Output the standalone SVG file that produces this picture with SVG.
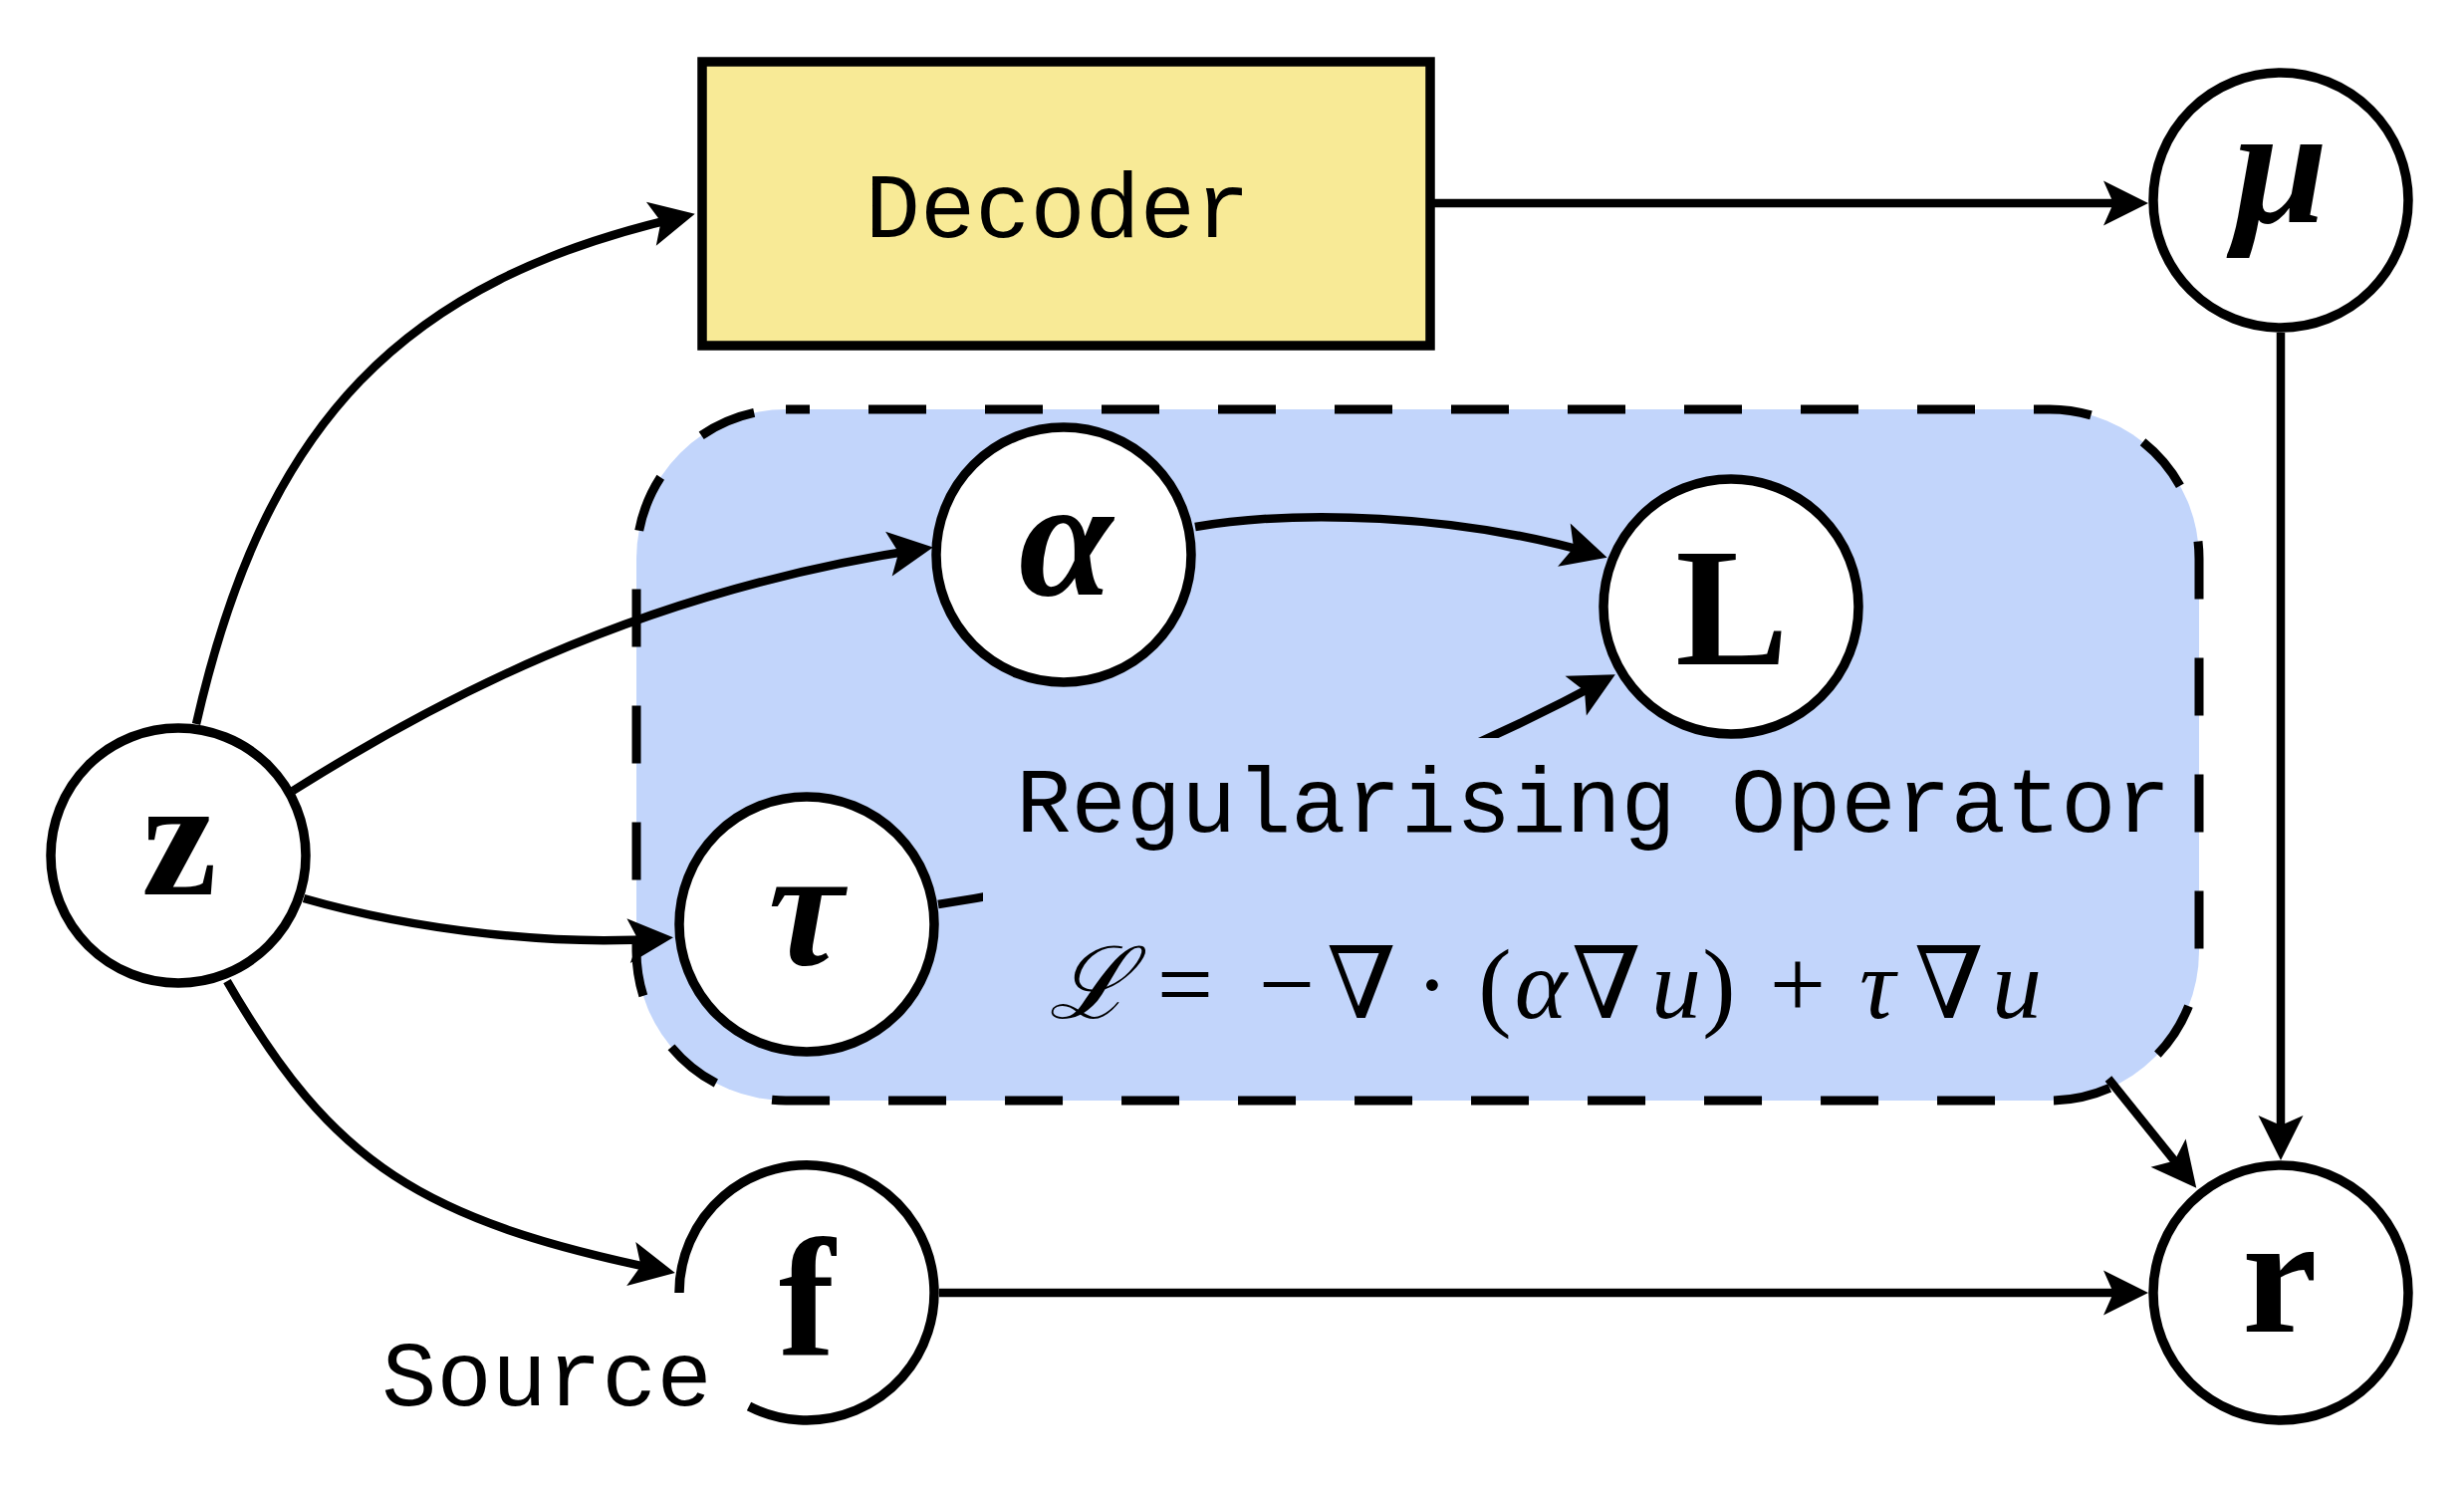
<svg xmlns="http://www.w3.org/2000/svg" width="2474" height="1493" viewBox="0 0 2474 1493">
<style>
.edge{fill:none;stroke:#000;stroke-width:8.5;marker-end:url(#ah)}
.node{fill:#fff;stroke:#000;stroke-width:9.5}
.lbl{font-family:"Liberation Serif","DejaVu Serif",serif;font-weight:bold;font-size:170px;text-anchor:middle;fill:#000}
.it{font-style:italic}
.tt{font-family:"Liberation Mono","DejaVu Sans Mono",monospace;font-size:92px;fill:#000}
.m{font-family:"Liberation Serif","DejaVu Serif",serif;font-size:100px;text-anchor:middle;fill:#000}
.ms{font-family:"DejaVu Serif","Liberation Serif",serif;font-size:100px;text-anchor:middle;fill:#000}
</style>
<defs>
<marker id="ah" markerUnits="userSpaceOnUse" viewBox="-40 -25 55 50" markerWidth="55" markerHeight="50" refX="0" refY="0" orient="auto" overflow="visible">
<path d="M10,0 L-35,-22.5 L-25,0 L-35,22.5 Z" fill="#000"/>
</marker>
</defs>
<rect width="2474" height="1493" fill="#fff"/>
<g id="operator-box">
<path d="M789,411 H2058 A150,150 0 0 1 2208,561 V955 A150,150 0 0 1 2058,1105 H789 A150,150 0 0 1 639,955 V561 A150,150 0 0 1 789,411 Z" fill="#c2d5fb"/>
</g>
<g id="connectors">
<path class="edge" d="M197,727 C266,424 403.5,281 688,217"/>
<path class="edge" d="M294,794 C421,714 630,595 927,551"/>
<path class="edge" d="M305,902 C420,935 560,950 666,942"/>
<path class="edge" d="M228,985 C334,1168.6 422,1225.2 668,1276"/>
<path class="edge" d="M1200,529 C1300,512 1460,515 1604,557"/>
<path class="edge" d="M942,908 C1172,873 1411,791 1613,682"/>
<path class="edge" d="M1436,204 L2147,204"/>
<path class="edge" d="M2290,334 L2290,1155"/>
<path class="edge" d="M943,1298 L2147,1298"/>
<path class="edge" d="M2117,1083 L2199,1185"/>
</g>
<g id="operator-label">
<rect x="987" y="741" width="1218" height="190" fill="#c2d5fb"/>
<text class="tt" x="1600" y="835" text-anchor="middle">Regularising Operator</text>
</g>
<g id="operator-border">
<path d="M789,411 H2058 A150,150 0 0 1 2208,561 V955 A150,150 0 0 1 2058,1105 H789 A150,150 0 0 1 639,955 V561 A150,150 0 0 1 789,411 Z" fill="none" stroke="#000" stroke-width="9" stroke-dasharray="58 59" stroke-dashoffset="34"/>
</g>
<g id="formula">
<text class="ms" x="1094" y="1022" font-style="italic">ℒ</text>
<text class="m" x="1190" y="1022">=</text>
<text class="m" x="1292" y="1022">−</text>
<text class="ms" x="1367" y="1022">∇</text>
<text class="m" x="1438" y="1022">·</text>
<text class="m" x="1501" y="1022" font-size="110">(</text>
<text class="m" x="1547" y="1022" font-style="italic">α</text>
<text class="ms" x="1613" y="1022">∇</text>
<text class="m" x="1683" y="1022" font-style="italic">u</text>
<text class="m" x="1726" y="1022" font-size="110">)</text>
<text class="m" x="1805" y="1022">+</text>
<text class="m" x="1885" y="1022" font-style="italic">τ</text>
<text class="ms" x="1957" y="1022">∇</text>
<text class="m" x="2025" y="1022" font-style="italic">u</text>
</g>
<g id="decoder">
<rect x="705" y="62" width="731" height="285" fill="#f8ea96" stroke="#000" stroke-width="9.5"/>
<text class="tt" x="1062" y="238" text-anchor="middle">Decoder</text>
</g>
<g id="node-z">
<circle class="node" cx="179" cy="859" r="128"/>
<text class="lbl" x="180" y="898">z</text>
</g>
<g id="node-alpha">
<circle class="node" cx="1068" cy="557" r="128"/>
<text class="lbl it" x="1070" y="597">α</text>
</g>
<g id="node-tau">
<circle class="node" cx="810" cy="928" r="128"/>
<text class="lbl it" x="809" y="968">τ</text>
</g>
<g id="node-L">
<circle class="node" cx="1738" cy="609" r="128"/>
<text class="lbl" x="1739" y="667">L</text>
</g>
<g id="node-mu">
<circle class="node" cx="2290" cy="201" r="128"/>
<text class="lbl it" x="2290" y="223">μ</text>
</g>
<g id="node-f">
<circle cx="810" cy="1298" r="128" fill="#fff"/>
<path d="M682,1298 A128,128 0 1 1 752,1412" fill="none" stroke="#000" stroke-width="9.5"/>
<text class="lbl" x="810" y="1360">f</text>
<text class="tt" x="549" y="1411" text-anchor="middle">Source</text>
</g>
<g id="node-r">
<circle class="node" cx="2290" cy="1298" r="128"/>
<text class="lbl" x="2289" y="1337">r</text>
</g>
</svg>
